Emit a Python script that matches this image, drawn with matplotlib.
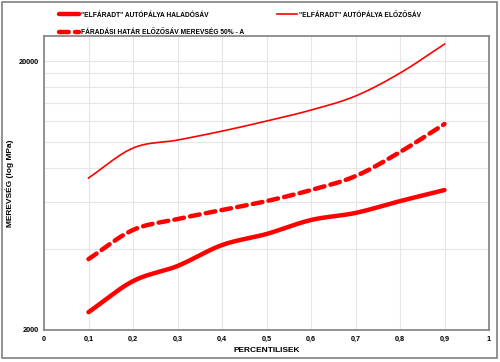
import numpy as np
import matplotlib
matplotlib.use("Agg")
import matplotlib.pyplot as plt
from matplotlib.ticker import FixedLocator, NullFormatter, FuncFormatter
from matplotlib.patches import Rectangle

plt.rcParams['font.family'] = ['Liberation Sans', 'DejaVu Sans']

# data
percentiles = [0.1, 0.2, 0.3, 0.4, 0.5, 0.6, 0.7, 0.8, 0.9]
haladosav = [2330, 3040, 3460, 4140, 4550, 5130, 5450, 6030, 6630]
elozosav = [7350, 9500, 10170, 10980, 11970, 13150, 14830, 18050, 23140]
faradasi = [3670, 4710, 5170, 5590, 6030, 6630, 7470, 9180, 11670]

labels = ['"ELFÁRADT" AUTÓPÁLYA HALADÓSÁV',
          '"ELFÁRADT" AUTÓPÁLYA ELŐZŐSÁV',
          'FÁRADÁSI HATÁR ELŐZŐSÁV MEREVSÉG 50% - A']


def smooth(x, y, n=20):
    # Catmull-Rom spline in log space, like Excel's smoothed line
    x = np.asarray(x, float)
    y = np.log10(np.asarray(y, float))
    px = np.concatenate([[2 * x[0] - x[1]], x, [2 * x[-1] - x[-2]]])
    py = np.concatenate([[2 * y[0] - y[1]], y, [2 * y[-1] - y[-2]]])
    xs, ys = [], []
    for i in range(1, len(px) - 2):
        t = np.linspace(0, 1, n, endpoint=False)
        for p, out in ((px, xs), (py, ys)):
            p0, p1, p2, p3 = p[i - 1], p[i], p[i + 1], p[i + 2]
            out.extend(0.5 * (2 * p1 + (-p0 + p2) * t
                              + (2 * p0 - 5 * p1 + 4 * p2 - p3) * t ** 2
                              + (-p0 + 3 * p1 - 3 * p2 + p3) * t ** 3))
    xs.append(x[-1])
    ys.append(y[-1])
    return np.array(xs), 10 ** np.array(ys)


fig = plt.figure(figsize=(5.0, 3.62), dpi=100)
fig.patches.append(Rectangle((0.003, 0.01), 0.99, 0.985, transform=fig.transFigure,
                             fill=False, edgecolor='#808080', linewidth=1.2))
ax = fig.add_axes([0.088, 0.0884, 0.89, 0.8122])

xs, ys = smooth(percentiles, haladosav)
l1, = ax.plot(xs, ys, color='#ff0000', linewidth=3.2, solid_capstyle='round')
xs, ys = smooth(percentiles, elozosav)
l2, = ax.plot(xs, ys, color='#ff0000', linewidth=1.2)
xs, ys = smooth(percentiles, faradasi)
l3, = ax.plot(xs, ys, color='#ff0000', linewidth=3.2, dashes=(2.2, 1.4), dash_capstyle='round')

ax.set_yscale('log')
ax.set_xlim(0, 1)
ax.set_ylim(2000, 24800)
ax.set_xticks(np.arange(0, 1.01, 0.1))
ax.xaxis.set_major_formatter(FuncFormatter(lambda v, p: ('%g' % round(v, 1)).replace('.', ',')))
ax.yaxis.set_major_locator(FixedLocator([2000, 20000]))
ax.yaxis.set_major_formatter(FuncFormatter(lambda v, p: '%d' % v))
ax.yaxis.set_minor_locator(FixedLocator(np.arange(4000, 18001, 2000)))
ax.yaxis.set_minor_formatter(NullFormatter())
ax.grid(True, which='both', color='#e6e6e6', linewidth=0.8)
ax.set_axisbelow(True)
ax.tick_params(which='both', length=0, labelsize=5.3, pad=4)
for t in ax.get_xticklabels() + ax.get_yticklabels():
    t.set_fontweight('bold')
for s in ax.spines.values():
    s.set_color('#808080')
    s.set_linewidth(1.2)

ax.set_xlabel('PERCENTILISEK', fontsize=6, fontweight='bold', labelpad=3)
ax.set_ylabel('MEREVSÉG (log MPa)', fontsize=6, fontweight='bold')
ax.yaxis.set_label_coords(-0.067, 0.5)

fig.legend([l1, l2], labels[:2], loc='center left', bbox_to_anchor=(0.105, 0.958),
           ncol=2, frameon=False, columnspacing=10.2,
           handlelength=3.1, handletextpad=0.3, prop={'weight': 'bold', 'size': 4.8})
fig.legend([l3], labels[2:], loc='center left', bbox_to_anchor=(0.105, 0.91),
           frameon=False, handlelength=3.1, handletextpad=0.3,
           prop={'weight': 'bold', 'size': 4.8})

fig.savefig('out.png', dpi=100)
